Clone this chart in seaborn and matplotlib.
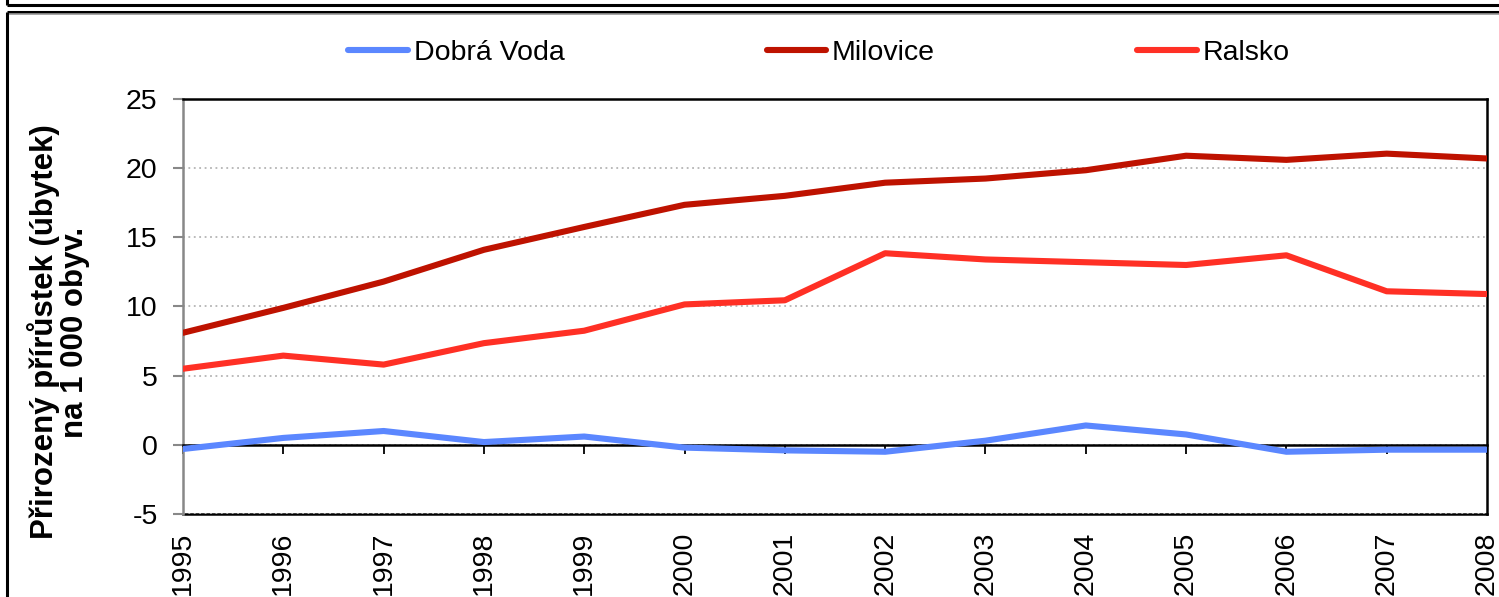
import matplotlib
matplotlib.use("Agg")
import matplotlib.pyplot as plt
from matplotlib.lines import Line2D
import seaborn as sns
import pandas as pd

years = [1995, 1996, 1997, 1998, 1999, 2000, 2001, 2002, 2003, 2004, 2005, 2006, 2007, 2008]
dobra_voda = [-0.3, 0.5, 1.0, 0.2, 0.6, -0.2, -0.4, -0.5, 0.3, 1.4, 0.75, -0.5, -0.35, -0.35]
milovice = [8.1, 9.9, 11.8, 14.1, 15.75, 17.35, 18.0, 18.95, 19.25, 19.85, 20.9, 20.6, 21.05, 20.7]
ralsko = [5.5, 6.45, 5.8, 7.35, 8.25, 10.15, 10.45, 13.85, 13.4, 13.2, 13.0, 13.7, 11.1, 10.9]
series_names = ["Dobrá Voda", "Milovice", "Ralsko"]
series_colors = ["#5B87FF", "#BE1200", "#FF3025"]
y_ticks = [-5, 0, 5, 10, 15, 20, 25]
y_label = "Přirozený přírůstek (úbytek)\nna 1 000 obyv."

sns.set_style("white")
plt.rcParams["font.family"] = ["Liberation Sans", "DejaVu Sans"]
plt.rcParams["axes.unicode_minus"] = False
plt.rcParams["text.color"] = "black"
plt.rcParams["axes.labelcolor"] = "black"
plt.rcParams["xtick.color"] = "black"
plt.rcParams["ytick.color"] = "black"

df = pd.DataFrame({
    "rok": years * 3,
    "hodnota": dobra_voda + milovice + ralsko,
    "obec": [series_names[0]] * len(years) + [series_names[1]] * len(years) + [series_names[2]] * len(years),
})

W, H = 1499, 597
fig = plt.figure(figsize=(W / 100, H / 100), dpi=100)
L, R, T, B = 183, 1487, 99, 514
ax = fig.add_axes([L / W, 1 - B / H, (R - L) / W, (B - T) / H])

sns.lineplot(data=df, x="rok", y="hodnota", hue="obec", hue_order=series_names,
             palette=dict(zip(series_names, series_colors)), linewidth=4.4,
             ax=ax, legend=True, zorder=5)
handles, labels = ax.get_legend_handles_labels()
ax.get_legend().remove()

ax.set_xlim(years[0], years[-1])
ax.set_ylim(y_ticks[0], y_ticks[-1])
ax.set_yticks(y_ticks)
ax.set_xticks(years)
ax.set_xlabel("")

# grid
ax.yaxis.grid(True, color="#b4b4b4", linestyle=(0, (1, 2)), linewidth=1.3, zorder=0)
ax.xaxis.grid(False)

# spines
for s in ["top", "right"]:
    ax.spines[s].set_color("black")
    ax.spines[s].set_linewidth(1.8)
ax.spines["left"].set_color("#888888")
ax.spines["left"].set_linewidth(1.8)
ax.spines["bottom"].set_position(("data", 0))
ax.spines["bottom"].set_color("black")
ax.spines["bottom"].set_linewidth(1.8)

ax.tick_params(axis="x", direction="out", length=6.5, width=1.3, color="black",
               labelbottom=False, bottom=True)
ax.tick_params(axis="y", direction="out", length=7.2, width=1.5, color="#888888",
               labelsize=20.5, pad=11, labelcolor="black", left=True)

sec = ax.secondary_xaxis("bottom")
sec.set_xticks(years)
sec.set_xticklabels([str(y) for y in years], rotation=90, fontsize=20.5, color="black")
sec.tick_params(axis="x", length=0, pad=13)
sec.spines["bottom"].set_color("black")
sec.spines["bottom"].set_linewidth(1.8)

ax.set_ylabel(y_label, fontsize=22.5, fontweight="bold", linespacing=1.0, color="black")
ax.yaxis.set_label_coords((90 - L) / (R - L), (B - 332) / (B - T))

fig.legend(handles, labels, loc="center", bbox_to_anchor=(819 / W, 1 - 53 / H),
           ncol=3, frameon=False, fontsize=20.5, handlelength=2.1,
           handletextpad=0.2, columnspacing=7.1, labelcolor="black")

# outer chart frames
def px_line(xs, ys, lw=2.2, color="black"):
    fig.add_artist(Line2D([x / W for x in xs], [1 - y / H for y in ys],
                          transform=fig.transFigure, color=color, linewidth=lw,
                          solid_capstyle="butt"))

px_line([7, W + 5], [5, 5])
px_line([7, 7], [-5, 5])
px_line([7, W + 5], [11.5, 11.5])
px_line([7, 7], [11.5, H + 5])
px_line([9, W + 5], [13.5, 13.5], lw=1.2, color="#999999")

fig.savefig("out.png", dpi=100)
